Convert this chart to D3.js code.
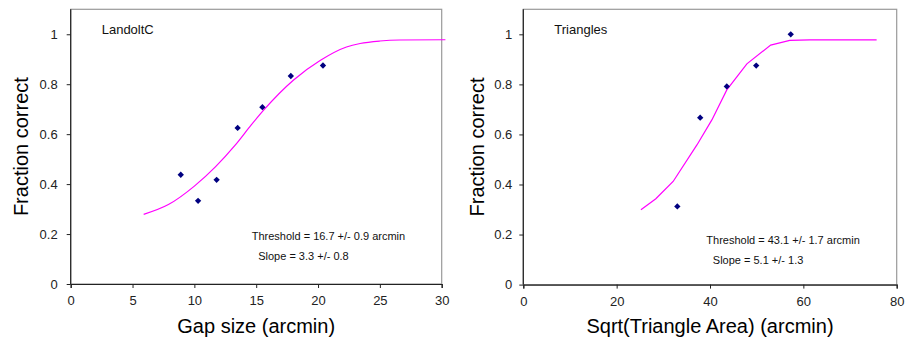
<!DOCTYPE html>
<html>
<head>
<meta charset="utf-8">
<script src="https://cdn.jsdelivr.net/npm/d3@7"></script>
<style>
  body { margin: 0; background: #fff; }
  svg { font-family: "Liberation Sans", Arial, sans-serif; }
</style>
</head>
<body>
<div id="chart"></div>
<script>
// LandoltC panel
const landoltX = [8.9, 10.3, 11.8, 13.5, 15.5, 17.8, 20.4];
const landoltY = [0.4375, 0.333, 0.417, 0.625, 0.708, 0.833, 0.875];
const landoltFitX = [5.9, 7.9, 10.0, 11.7, 13.3, 14.6, 15.6, 18.0, 20.2, 22.3, 23.4, 25.0, 26.6, 30.3];
const landoltFitY = [0.279, 0.318, 0.392, 0.469, 0.556, 0.637, 0.696, 0.816, 0.896, 0.949, 0.963, 0.973, 0.977, 0.978];
const landoltXTicks = [0, 5, 10, 15, 20, 25, 30];

// Triangles panel
const triX = [33.0, 37.9, 43.6, 49.9, 57.3];
const triY = [0.3125, 0.667, 0.792, 0.875, 1.0];
const triFitX = [25.2, 28.4, 32.1, 37.2, 40.4, 43.6, 47.9, 53.0, 57.1, 61.4, 75.7];
const triFitY = [0.299, 0.343, 0.412, 0.558, 0.658, 0.778, 0.882, 0.957, 0.976, 0.978, 0.978];
const triXTicks = [0, 20, 40, 60, 80];

const yTicks = [0, 0.2, 0.4, 0.6, 0.8, 1];

const svg = d3.select("#chart").append("svg")
  .attr("width", 905)
  .attr("height", 341);

function drawPanel(cfg) {
  const x = d3.scaleLinear().domain(cfg.xDomain).range([cfg.left, cfg.right]);
  const y = d3.scaleLinear().domain([0, 1.1]).range([cfg.bottom, cfg.top]);
  const g = svg.append("g");

  // grey frame
  g.append("rect")
    .attr("x", cfg.left)
    .attr("y", cfg.top)
    .attr("width", cfg.right - cfg.left)
    .attr("height", cfg.bottom - cfg.top)
    .attr("fill", "none")
    .attr("stroke", "#9a9a9a")
    .attr("stroke-width", 1.2);

  const yAxis = g.append("g")
    .attr("transform", `translate(${cfg.left},0)`)
    .call(d3.axisLeft(y).tickValues(yTicks).tickSize(4).tickPadding(cfg.yPad)
      .tickFormat(d3.format("~g")));
  const xAxis = g.append("g")
    .attr("transform", `translate(0,${cfg.bottom})`)
    .call(d3.axisBottom(x).tickValues(cfg.xTicks).tickSize(4).tickPadding(8));

  [xAxis, yAxis].forEach((a) => {
    a.select(".domain").attr("stroke", "#222").attr("stroke-width", 1.2);
    a.selectAll(".tick line").attr("stroke", "#222");
    a.selectAll(".tick text")
      .attr("fill", "#222")
      .attr("font-size", 13)
      .attr("font-family", "Liberation Sans, Arial, sans-serif");
  });
  yAxis.select(".domain").attr("d", `M0,${cfg.bottom}V${cfg.top}`);

  const pts = cfg.fitX.map((d, i) => [d, cfg.fitY[i]]);
  g.append("path")
    .datum(pts)
    .attr("fill", "none")
    .attr("stroke", "#ff00ff")
    .attr("stroke-width", 1.2)
    .attr("d", d3.line().curve(cfg.curve).x((d) => x(d[0])).y((d) => y(d[1])));

  const data = cfg.px.map((d, i) => [d, cfg.py[i]]);
  g.selectAll(".pt")
    .data(data)
    .join("path")
    .attr("class", "pt")
    .attr("d", d3.symbol(d3.symbolSquare, 20))
    .attr("transform", (d) => `translate(${x(d[0])},${y(d[1])}) rotate(45)`)
    .attr("fill", "#000080");

  g.append("text")
    .attr("x", cfg.left + 31)
    .attr("y", 34)
    .attr("font-size", 13)
    .attr("fill", "#111")
    .text(cfg.title);

  g.append("text")
    .attr("x", cfg.left + cfg.annX)
    .attr("y", cfg.annY)
    .attr("font-size", 11)
    .attr("fill", "#111")
    .text(cfg.ann1);
  g.append("text")
    .attr("x", cfg.left + cfg.annX + 6.5)
    .attr("y", cfg.annY + 19.5)
    .attr("font-size", 11)
    .attr("fill", "#111")
    .text(cfg.ann2);

  g.append("text")
    .attr("x", (cfg.left + cfg.right) / 2)
    .attr("y", 333)
    .attr("text-anchor", "middle")
    .attr("font-size", 20)
    .attr("fill", "#000")
    .text(cfg.xLabel);

  g.append("text")
    .attr("transform", `translate(${cfg.left - cfg.yTitleOff},${(cfg.top + cfg.bottom) / 2}) rotate(-90)`)
    .attr("text-anchor", "middle")
    .attr("font-size", 20)
    .attr("fill", "#000")
    .text("Fraction correct");
}

drawPanel({
  left: 70.7, right: 441.7, top: 9.3, bottom: 284,
  xDomain: [0, 30], xTicks: landoltXTicks, yPad: 9, yTitleOff: 43,
  fitX: landoltFitX, fitY: landoltFitY, px: landoltX, py: landoltY,
  curve: d3.curveMonotoneX,
  title: "LandoltC",
  ann1: "Threshold = 16.7 +/- 0.9 arcmin", ann2: "Slope = 3.3 +/- 0.8",
  annX: 181, annY: 240,
  xLabel: "Gap size (arcmin)"
});

drawPanel({
  left: 523.3, right: 896.7, top: 9.3, bottom: 284.6,
  xDomain: [0, 80], xTicks: triXTicks, yPad: 7, yTitleOff: 39,
  fitX: triFitX, fitY: triFitY, px: triX, py: triY,
  curve: d3.curveLinear,
  title: "Triangles",
  ann1: "Threshold = 43.1 +/- 1.7 arcmin", ann2: "Slope = 5.1 +/- 1.3",
  annX: 183, annY: 244,
  xLabel: "Sqrt(Triangle Area) (arcmin)"
});
</script>
</body>
</html>
